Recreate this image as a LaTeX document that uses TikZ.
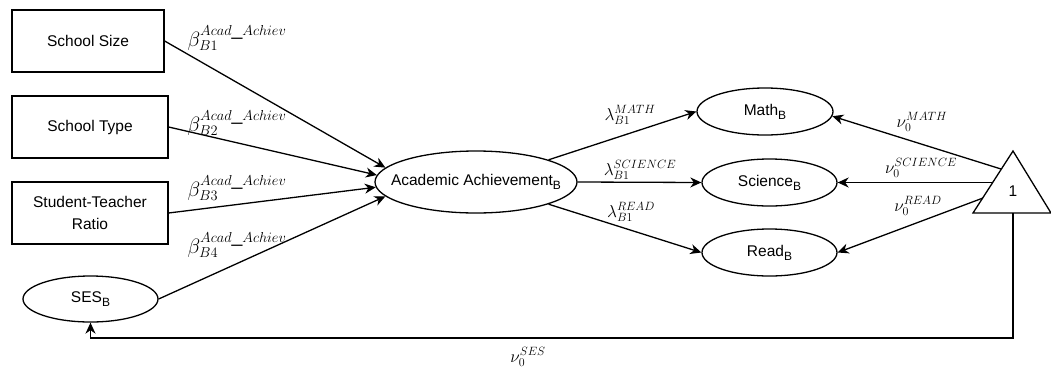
\documentclass[tikz,border=0pt]{standalone}
\usepackage{fontspec}
\setmainfont{Liberation Sans}
\usetikzlibrary{arrows.meta,shapes.geometric}
\newcommand\subB{\raisebox{-4pt}{\fontsize{12}{12}\selectfont B}}
\begin{document}
\begin{tikzpicture}[x=1pt,y=-1pt,
  box/.style={draw,line width=1.3pt,minimum height=62pt,align=center,inner sep=0pt,font=\fontsize{15.5}{22}\selectfont},
  ell/.style={ellipse,draw,line width=1.3pt,inner sep=0pt,font=\fontsize{15.5}{19}\selectfont},
  arr/.style={line width=1.3pt,-{Stealth[length=11pt,width=10pt,inset=3.5pt]}},
  lab/.style={inner sep=0pt,font=\fontsize{17.5}{20}\selectfont},
  blab/.style={inner sep=0pt,font=\fontsize{19.5}{22}\selectfont}]
\useasboundingbox (0,0) rectangle (1051,378);
% exogenous boxes
\node[box,minimum width=152pt] (ss) at (88,41) {School Size};
\node[box,minimum width=156pt] (st) at (90,127) {School Type};
\node[box,minimum width=156pt] (str) at (90,213) {Student-Teacher\\Ratio};
\node[ell,minimum width=135pt,minimum height=46pt] (ses) at (90.5,299) {\makebox[0pt]{SES\subB}};
% latent
\node[ell,minimum width=202pt,minimum height=62pt] (aa) at (476,182) {\makebox[0pt]{Academic Achievement\subB}};
% indicators
\node[ell,minimum width=136pt,minimum height=47pt] (math) at (765,111.5) {\makebox[0pt]{Math\subB}};
\node[ell,minimum width=135pt,minimum height=47pt] (sci) at (769.5,182.5) {\makebox[0pt]{Science\subB}};
\node[ell,minimum width=135pt,minimum height=47pt] (read) at (769.5,252.5) {\makebox[0pt]{Read\subB}};
% constant triangle
\draw[line width=1.3pt,line join=miter] (973,213) -- (1013,151) -- (1051,213) -- cycle;
\node[font=\fontsize{15.5}{18}\selectfont] (one) at (1013,191) {1};
\coordinate (tm) at (1001,169);
\coordinate (tsc) at (993,182.5);
\coordinate (trd) at (983,198);
\coordinate (tb) at (1013,213);
\coordinate (corner) at (1013,338);
% paths into latent
\draw[arr] (ss.east) -- (aa.171);
\draw[arr] (st.east) -- (aa.176.7);
\draw[arr] (str.east) -- (aa.183);
\draw[arr] (ses.east) -- (aa.189);
% loadings
\draw[arr] (aa.17.7) -- (math.west);
\draw[arr] (aa.east) -- (sci.west);
\draw[arr] (aa.-17.7) -- (read.west);
% intercepts
\draw[arr] (tm) -- (math.-4);
\draw[arr] (tsc) -- (sci.east);
\draw[arr] (trd) -- (read.east);
\draw[arr,line join=miter] (tb) -- (corner) -| (ses.south);
% labels
\node[blab] (b1) at (237,38) {$\beta_{B1}^{Acad\_Achiev}$};
\node[blab] (b2) at (237,123) {$\beta_{B2}^{Acad\_Achiev}$};
\node[blab] (b3) at (237,188) {$\beta_{B3}^{Acad\_Achiev}$};
\node[blab] (b4) at (237,245) {$\beta_{B4}^{Acad\_Achiev}$};
\node[lab] (lm) at (630,115) {$\lambda_{B1}^{MATH}$};
\node[lab] (ls) at (640,170) {$\lambda_{B1}^{SCIENCE}$};
\node[lab] (lr) at (631,212) {$\lambda_{B1}^{READ}$};
\node[lab] (nm) at (922,122) {$\nu_{0}^{MATH}$};
\node[lab] (ns) at (921,168) {$\nu_{0}^{SCIENCE}$};
\node[lab] (nr) at (918,206) {$\nu_{0}^{READ}$};
\node[lab] (nses) at (528,357) {$\nu_{0}^{SES}$};
\end{tikzpicture}
\end{document}
